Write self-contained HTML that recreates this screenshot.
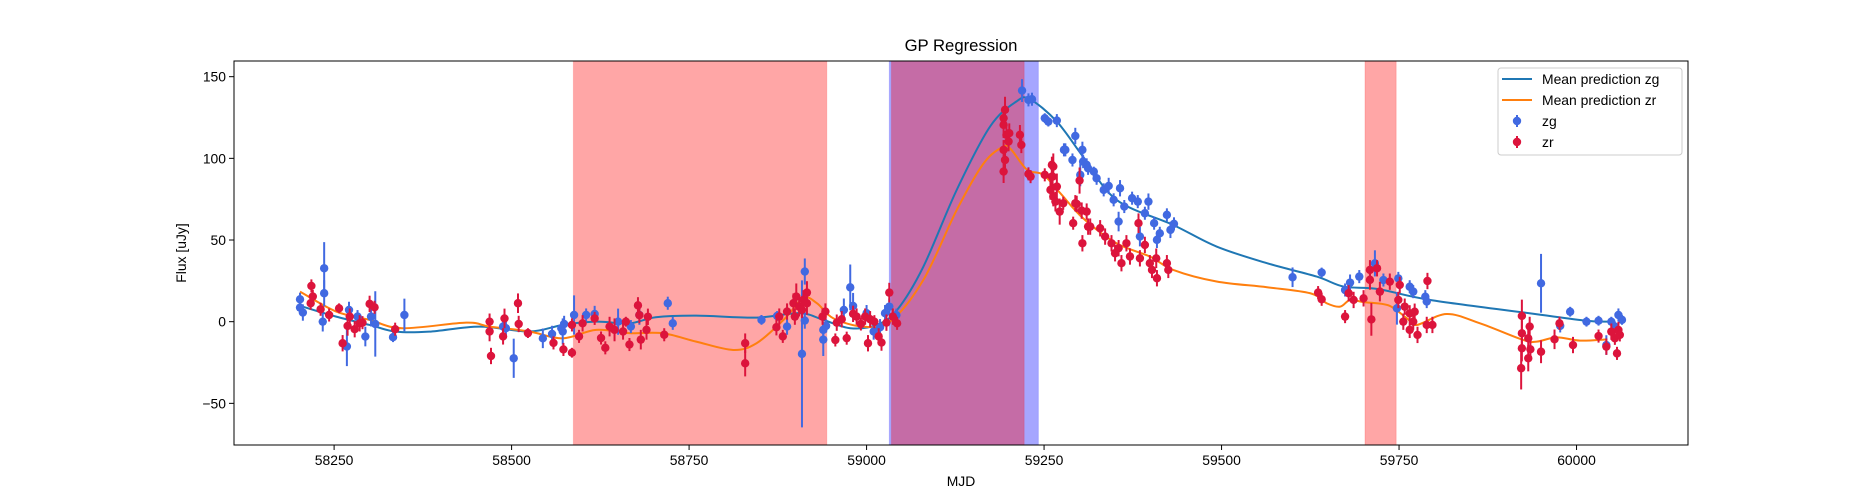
<!DOCTYPE html>
<html><head><meta charset="utf-8"><style>
html,body{margin:0;padding:0;background:#fff;}
svg{display:block;font-family:"Liberation Sans","DejaVu Sans",sans-serif;}
</style></head><body>
<svg id="chart" width="1875" height="500" viewBox="0 0 1875 500">
<rect x="0" y="0" width="1875" height="500" fill="#fff"/>
<g id="spans"></g>
<g id="curves"></g>
<g id="points"></g>
<g id="axes"></g>
<text x="961" y="51" font-size="16.7" text-anchor="middle">GP Regression</text>
<text x="961" y="486" font-size="13.9" text-anchor="middle">MJD</text>
<text x="0" y="0" font-size="13.9" text-anchor="middle" transform="translate(186,253) rotate(-90)">Flux [uJy]</text>
<g>
<rect x="1498" y="68" width="184" height="87" rx="3" fill="#fff" fill-opacity="0.8" stroke="#ccc"/>
<line x1="1502" y1="79" x2="1532" y2="79" stroke="#1f77b4" stroke-width="2"/>
<text x="1542" y="84" font-size="13.9">Mean prediction zg</text>
<line x1="1502" y1="100" x2="1532" y2="100" stroke="#ff7f0e" stroke-width="2"/>
<text x="1542" y="105" font-size="13.9">Mean prediction zr</text>
<line x1="1517" y1="115" x2="1517" y2="127" stroke="#4169e1" stroke-width="2"/>
<circle cx="1517" cy="121" r="4.2" fill="#4169e1"/>
<text x="1542" y="126" font-size="13.9">zg</text>
<line x1="1517" y1="136" x2="1517" y2="148" stroke="#dc143c" stroke-width="2"/>
<circle cx="1517" cy="142" r="4.2" fill="#dc143c"/>
<text x="1542" y="147" font-size="13.9">zr</text>
</g>
</svg>
<script>
// ---- data ----
const xTicks = [58250, 58500, 58750, 59000, 59250, 59500, 59750, 60000];
const yTicks = [-50, 0, 50, 100, 150];
const spanStarts = [58587, 59032, 59035, 59702];
const spanEnds = [58944, 59242, 59222, 59746];
const spanColors = ["red", "blue", "red", "red"];

const zgCurveX = [58202,58206,58253,58300,58337,58384,58455,58525,58572,58619,58666,58703,58760,58845,58906,58939,58977,59014,59043,59080,59127,59174,59211,59230,59268,59305,59352,59432,59493,59564,59634,59672,59720,59794,59935,60014,60047];
const zgCurveY = [10,9.2,3.1,-2,-6.1,-6.1,-3,-6,-2,0,-1,2.7,3.7,2.5,5.2,1.1,-4,-2,7.2,33.7,80.7,119.5,134.8,136.2,122.5,101,74.6,59.2,46,35.8,27.6,21.5,20,13.3,5.1,0.6,0];
const zrCurveX = [58202,58253,58300,58346,58436,58469,58525,58572,58619,58666,58713,58760,58812,58845,58883,58911,58930,58953,58995,59033,59080,59127,59165,59193,59204,59226,59249,59273,59305,59352,59399,59432,59493,59564,59625,59648,59667,59681,59700,59735,59761,59775,59817,59864,59925,59944,59972,60005,60043];
const zrCurveY = [18.4,6.2,1.1,-4,-0.6,-3,-6,-10.2,-5,-7,-7.1,-12.2,-17.3,-13.2,1.1,14.3,11.3,2.1,-3,0,25.6,68.4,97,107.2,105.2,93,89.9,78.6,63.3,48,39.9,31.7,24.6,21.1,17.4,11.3,9.2,13.3,12,10,2.1,-2,4.7,-1,-11.2,-12.2,-9.6,-11.6,-10.8];

const zgX = [58202,58202,58206,58236,58236,58234,58271,58283,58294,58268,58302,58308,58333,58349,58488,58492,58503,58544,58557,58570,58574,58572,58588,58605,58617,58650,58668,58680,58720,58727,
58852,58874,58888,58913,58913,58909,58939,58939,58943,58968,58977,58981,59000,59010,59019,59026,59032,59042,
59219,59228,59233,59251,59256,59268,59294,59280,59290,59304,59310,59301,59278,59305,59312,59320,59324,59334,59341,59348,59357,59363,59355,59374,59382,59385,59392,59397,59405,59413,59409,59423,59428,59433,
59600,59641,59674,59681,59694,59716,59728,59749,59747,59765,59770,59787,59789,59950,59977,59991,60014,60031,60042,60049,60059,60064,60054];
const zgY = [13.7,8.6,5.6,32.7,17.4,0,7.2,3.1,-9.1,-15.2,3.1,-1.4,-9.5,4.1,-3,-4,-22.4,-10.2,-7.5,-4,-1.4,-6,4.1,4.1,4.7,0,-3,4.1,11.3,-1,
1.1,3.5,-3,30.7,0.7,-19.7,-5,-11,-2.6,7.2,21,9.6,5.2,-6,-3.4,5.2,9.2,4,
141.5,135.8,136.2,124.6,122.5,123.1,113.7,105.2,99,105.2,96,89.9,105.2,98,93.9,91.9,87.8,80.7,83.1,74.6,81.7,70.5,61.3,75.6,73.5,52.1,66.4,73.5,60.3,54.1,50.1,65.4,56.2,59.9,
27.2,30.1,19.4,23.9,27.6,35.7,25.5,26.5,8.2,21.4,18.4,15.3,12.3,23.5,-2.6,6.1,0,0.6,-14.3,0,4.1,1.1,-3];
const zgErr = [4,4,5,16,8,6,5,4,6,12,6,20,3,10,5,5,12,6,5,4,5,8,12,4,5,8,4,6,4,4,
3,3,5,8,5,45,5,10,4,7,14,8,5,5,5,5,5,4,
7,4,4,3,3,4,5,4,4,5,4,7,4,4,4,3,4,4,5,4,5,4,6,4,4,6,4,5,4,4,5,4,5,4,
6,3,4,5,4,8,4,4,10,4,4,4,4,18,4,3,3,3,6,3,4,3,3];

const zrX = [58218,58220,58217,58231,58243,58257,58262,58272,58269,58279,58286,58290,58300,58307,58336,58469,58469,58471,58490,58488,58509,58510,58523,58559,58573,58585,58585,58595,58600,58617,58626,58632,58638,58645,58657,58661,58666,58678,58680,58682,58692,58690,58715,
58829,58829,58873,58882,58877,58888,58897,58901,58905,58911,58916,58916,58899,58909,58942,58938,58956,58958,58965,58972,58981,58986,58992,58998,59005,59011,59002,59017,59021,59028,59032,59037,59043,
59193,59193,59195,59197,59200,59193,59195,59193,59201,59216,59218,59228,59231,59251,59261,59262,59259,59263,59268,59277,59272,59291,59296,59300,59304,59310,59312,
59263,59261,59266,59294,59303,59315,59329,59336,59345,59350,59359,59366,59371,59355,59383,59385,59392,59399,59402,59409,59408,59423,59425,
59636,59641,59674,59679,59686,59700,59709,59711,59719,59709,59723,59737,59751,59749,59758,59765,59756,59770,59776,59772,59790,59789,59797,59765,
59923,59923,59923,59922,59934,59932,59932,59935,59950,59969,59976,59995,60031,60042,60049,60057,60059,60054,60061];
const zrY = [21.9,15.4,11.3,7.6,4.1,8.2,-13.2,3.1,-2.6,-4.6,-1,-0.6,10.9,8.8,-4.6,0,-6,-21,2,-9,11.3,-1.4,-7,-13,-17,-19,-2,-9,-1,2,-10,-16,-3,-5,-6,0,-14,10,4,-11,3,-5,-8,
-13.2,-25.5,-3.4,-9,3.1,6.2,11.3,15.4,9.2,13.3,17.8,11.3,3.1,7.2,6.2,3.1,-11.2,-0.6,1.5,-10.1,4.8,3.1,-1.4,3.1,1.5,0,-13.2,-9,-12.8,-0.6,17.8,3.1,-1,
124.6,120.5,129.7,114.4,110.3,105.2,99,91.9,115.4,114.4,108.2,90.5,88.8,89.9,96,88.8,80.7,76.6,82.7,72.5,67.4,60.3,72.1,86.4,48,67.4,58.2,
95,88.8,73.5,72.5,68,58.2,57.2,52.1,48,41.9,35.8,48,39.9,45,60.3,38.8,47,35.8,31.7,26.6,38.8,35.8,31.7,
17.8,13.7,3.1,17.4,13.3,14.3,31.7,1.4,32.7,25.6,18.4,24.5,22.5,13.3,9.2,5.1,0,0,-8.1,6.1,24.9,-2,-2,-5,
3.5,-7.1,-16.3,-28.5,-3,-10.2,-22.4,-16.9,-18.4,-10.8,-1,-14.3,-8.8,-15.3,-6.1,-19.4,-5.1,-10.2,-8.1];
const zrErr = [4,4,4,4,4,3,5,5,6,5,5,4,5,4,4,5,6,5,6,5,6,5,3,4,4,3,4,4,5,4,4,4,6,7,5,3,4,5,5,6,5,6,4,
6,8,5,4,5,5,6,8,6,6,7,7,5,5,5,5,4,5,5,4,5,5,4,5,5,4,5,5,5,5,6,5,4,
5,8,8,6,6,6,6,7,6,6,5,4,4,4,5,6,6,6,8,4,8,4,5,8,5,5,5,
8,6,6,5,5,5,5,5,5,5,5,5,5,5,6,5,5,5,5,5,6,5,5,
4,4,4,5,5,5,6,10,5,6,6,5,5,5,5,5,5,5,5,5,5,5,5,5,
10,8,8,13,6,8,8,6,7,6,4,5,4,5,5,4,5,4,4];

// ---- scales ----
const PL = 234, PR = 1688, PT = 61, PB = 445;
const X0 = 58109, X1 = 60157, Y0 = -75.5, Y1 = 159.6;
const sx = v => PL + (v - X0) / (X1 - X0) * (PR - PL);
const sy = v => PB - (v - Y0) / (Y1 - Y0) * (PB - PT);
const NS = "http://www.w3.org/2000/svg";
function mk(tag, attrs, parent) {
  const e = document.createElementNS(NS, tag);
  for (const k in attrs) e.setAttribute(k, attrs[k]);
  parent.appendChild(e);
  return e;
}

// spans
const spansG = document.getElementById('spans');
for (let i = 0; i < spanStarts.length; i++) {
  const c = spanColors[i] === 'red' ? '#ff0000' : '#0000ff';
  const r = mk('rect', {x: sx(spanStarts[i]), y: PT, width: sx(spanEnds[i]) - sx(spanStarts[i]), height: PB - PT,
    fill: c, 'fill-opacity': 0.35, stroke: c, 'stroke-opacity': 0.15}, spansG);
  
  
}

// curves (Catmull-Rom smoothing)
function pathFor(xs, ys) {
  const p = xs.map((x, i) => [sx(x), sy(ys[i])]);
  let d = 'M' + p[0][0] + ',' + p[0][1];
  for (let i = 0; i < p.length - 1; i++) {
    const p0 = p[i - 1] || p[i], p1 = p[i], p2 = p[i + 1], p3 = p[i + 2] || p2;
    const c1 = [p1[0] + (p2[0] - p0[0]) / 6, p1[1] + (p2[1] - p0[1]) / 6];
    const c2 = [p2[0] - (p3[0] - p1[0]) / 6, p2[1] - (p3[1] - p1[1]) / 6];
    d += ' C' + c1 + ' ' + c2 + ' ' + p2;
  }
  return d;
}
const curvesG = document.getElementById('curves');
const cg = mk('path', {d: pathFor(zgCurveX, zgCurveY), fill: 'none', stroke: '#1f77b4', 'stroke-width': 2}, curvesG);


const cr = mk('path', {d: pathFor(zrCurveX, zrCurveY), fill: 'none', stroke: '#ff7f0e', 'stroke-width': 2}, curvesG);



// points
const ptsG = document.getElementById('points');
function drawSeries(xs, ys, es, color, name) {
  const g = mk('g', {}, ptsG);
  
  
  for (let i = 0; i < xs.length; i++) {
    const x = sx(xs[i]);
    const l = mk('line', {x1: x, x2: x, y1: sy(ys[i] - es[i]), y2: sy(ys[i] + es[i]), stroke: color, 'stroke-width': 2}, g);
    
    
    const c = mk('circle', {cx: x, cy: sy(ys[i]), r: 4.2, fill: color}, g);
    
    
  }
}
drawSeries(zgX, zgY, zgErr, '#4169e1', 'zg');
drawSeries(zrX, zrY, zrErr, '#dc143c', 'zr');

// axes
const ax = document.getElementById('axes');
const frame = mk('rect', {x: PL, y: PT, width: PR - PL, height: PB - PT, fill: 'none', stroke: '#000', 'stroke-width': 1}, ax);


xTicks.forEach(t => {
  const x = sx(t);
  const tl = mk('line', {x1: x, x2: x, y1: PB, y2: PB + 5, stroke: '#000'}, ax);
  
  
  const tx = mk('text', {x: x, y: PB + 20, 'font-size': 13.9, 'text-anchor': 'middle'}, ax);
  tx.textContent = t;
  
  
});
yTicks.forEach(t => {
  const y = sy(t);
  const tl = mk('line', {x1: PL - 5, x2: PL, y1: y, y2: y, stroke: '#000'}, ax);
  
  
  const tx = mk('text', {x: PL - 8, y: y + 5, 'font-size': 13.9, 'text-anchor': 'end'}, ax);
  tx.textContent = t < 0 ? '\u2212' + Math.abs(t) : t;
  
  
});
</script>
</body></html>
